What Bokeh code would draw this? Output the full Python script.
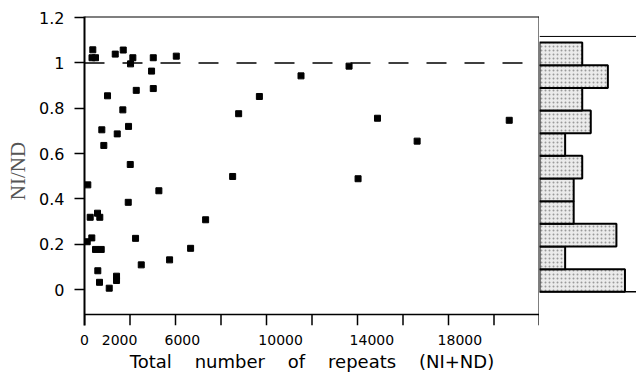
from bokeh.plotting import figure
from bokeh.layouts import row
from bokeh.models import Range1d, FixedTicker, Span, LinearAxis
from bokeh.embed import file_html
from bokeh.resources import INLINE

# ---- data ----
total_repeats = [365, 330, 484, 1351, 1703, 2125, 2024, 3023, 4035, 2948,
                 1012, 2275, 3023, 1685, 761, 1439, 1936, 849, 2011, 145,
                 3269, 1923, 572, 251, 673, 321, 119, 2244, 484, 735,
                 4664, 3740, 2495, 585, 1408, 1408, 660, 1087, 9517, 7687,
                 6776, 6512, 5324, 11629, 12879, 18669, 14621, 12025]
ratio = [1.058, 1.023, 1.023, 1.039, 1.057, 1.023, 0.996, 1.023, 1.030, 0.964,
         0.855, 0.879, 0.887, 0.793, 0.705, 0.687, 0.720, 0.636, 0.552, 0.462,
         0.436, 0.385, 0.337, 0.319, 0.319, 0.228, 0.211, 0.226, 0.177, 0.177,
         0.182, 0.131, 0.109, 0.083, 0.059, 0.040, 0.032, 0.006, 0.943, 0.852,
         0.776, 0.499, 0.308, 0.986, 0.756, 0.747, 0.655, 0.489]

x_tick_marks = [0, 2000, 4000, 6000, 8000, 10000, 12000, 14000, 16000, 18000, 20000]
x_label_pos = [0, 1540, 4300, 8620, 12630, 16500]
x_label_text = ["0", "2000", "6000", "10000", "14000", "18000"]
y_tick_vals = [0, 0.2, 0.4, 0.6, 0.8, 1.0, 1.2]
y_tick_text = ["0", "0.2", "0.4", "0.6", "0.8", "1", "1.2"]

hist_edges = [-0.01, 0.09, 0.19, 0.29, 0.39, 0.49, 0.59, 0.69, 0.79, 0.89, 0.99, 1.09]
hist_counts = [10, 3, 9, 4, 4, 5, 3, 6, 5, 8, 5]
hist_frame_top = 1.117
reference_ratio = 1.0

# axis geometry (data units)
X_MAX = 20000
Y_TOP = 1.205
X_AXIS_Y = -0.11          # where the x axis line crosses
TICK_LEN = 0.0486         # outward tick length below the x axis line
Y_BOTTOM = X_AXIS_Y - TICK_LEN

FONT = "DejaVu Sans"
NB = " \u00a0 \u00a0"

p = figure(width=539, height=387, x_range=Range1d(0, X_MAX), y_range=Range1d(Y_BOTTOM, Y_TOP),
           output_backend="svg", toolbar_location=None, x_axis_location=None,
           min_border_left=84, min_border_right=0, min_border_top=16, min_border_bottom=62)
p.grid.visible = False
p.background_fill_color = "white"
p.border_fill_color = "white"
p.outline_line_color = None

# frame lines
p.add_layout(Span(location=Y_TOP, dimension="width", line_color="black", line_width=2))
p.add_layout(Span(location=X_MAX, dimension="height", line_color="black", line_width=2))
p.add_layout(Span(location=X_AXIS_Y, dimension="width", line_color="black", line_width=1.5))
# x tick marks, hanging below the axis line
p.segment(x0=x_tick_marks, y0=[X_AXIS_Y] * len(x_tick_marks),
          x1=x_tick_marks, y1=[Y_BOTTOM] * len(x_tick_marks),
          line_color="black", line_width=1.5)

p.add_layout(Span(location=reference_ratio, dimension="width", line_color="black",
                  line_width=1.5, line_dash="20 18"))
p.scatter(total_repeats, ratio, marker="square", size=6, color="black")

# tick label axis (labels where the reference prints them)
xl = LinearAxis(ticker=FixedTicker(ticks=x_label_pos))
xl.major_label_overrides = {k: v for k, v in zip(x_label_pos, x_label_text)}
xl.major_tick_out = 0
xl.major_tick_in = 0
xl.axis_line_color = None
xl.major_tick_line_color = None
xl.minor_tick_line_color = None
xl.major_label_text_font = FONT
xl.major_label_text_font_size = "14px"
xl.major_label_text_color = "black"
xl.major_label_standoff = 9
xl.axis_label = "Total" + NB + "number" + NB + "of" + NB + "repeats" + NB + "(NI+ND)"
xl.axis_label_text_font = FONT
xl.axis_label_text_font_size = "18px"
xl.axis_label_text_font_style = "normal"
xl.axis_label_text_color = "black"
xl.axis_label_standoff = 3
p.add_layout(xl, "below")

ya = p.yaxis[0]
ya.ticker = FixedTicker(ticks=y_tick_vals)
ya.major_label_overrides = {k: v for k, v in zip(y_tick_vals, y_tick_text)}
ya.major_tick_out = 10
ya.major_tick_in = 0
ya.major_tick_line_color = "black"
ya.major_tick_line_width = 1.5
ya.minor_tick_line_color = None
ya.axis_line_color = "black"
ya.axis_line_width = 2
ya.major_label_text_font = FONT
ya.major_label_text_font_size = "16px"
ya.major_label_text_color = "black"
ya.major_label_standoff = 10
ya.axis_label = "NI/ND"
ya.axis_label_text_font = "Liberation Serif"
ya.axis_label_text_font_size = "21px"
ya.axis_label_text_font_style = "normal"
ya.axis_label_text_color = "#555555"
ya.axis_label_standoff = 6

h = figure(width=97, height=387, x_range=Range1d(0, 11.35), y_range=p.y_range,
           output_backend="svg", toolbar_location=None,
           x_axis_location=None, y_axis_location=None,
           min_border_left=0, min_border_right=0, min_border_top=16, min_border_bottom=62)
h.grid.visible = False
h.outline_line_color = None
h.background_fill_color = "white"
h.border_fill_color = "white"
h.quad(left=0, right=hist_counts, bottom=hist_edges[:-1], top=hist_edges[1:],
       fill_color="#ebebeb", hatch_pattern=".", hatch_color="#9a9a9a",
       hatch_scale=4, hatch_weight=1,
       line_color="black", line_width=2)
h.add_layout(Span(location=hist_frame_top, dimension="width", line_color="black", line_width=1))
h.add_layout(Span(location=hist_edges[0], dimension="width", line_color="black", line_width=1.5))

layout = row(p, h)
open("out.html", "w").write(file_html(layout, INLINE))
